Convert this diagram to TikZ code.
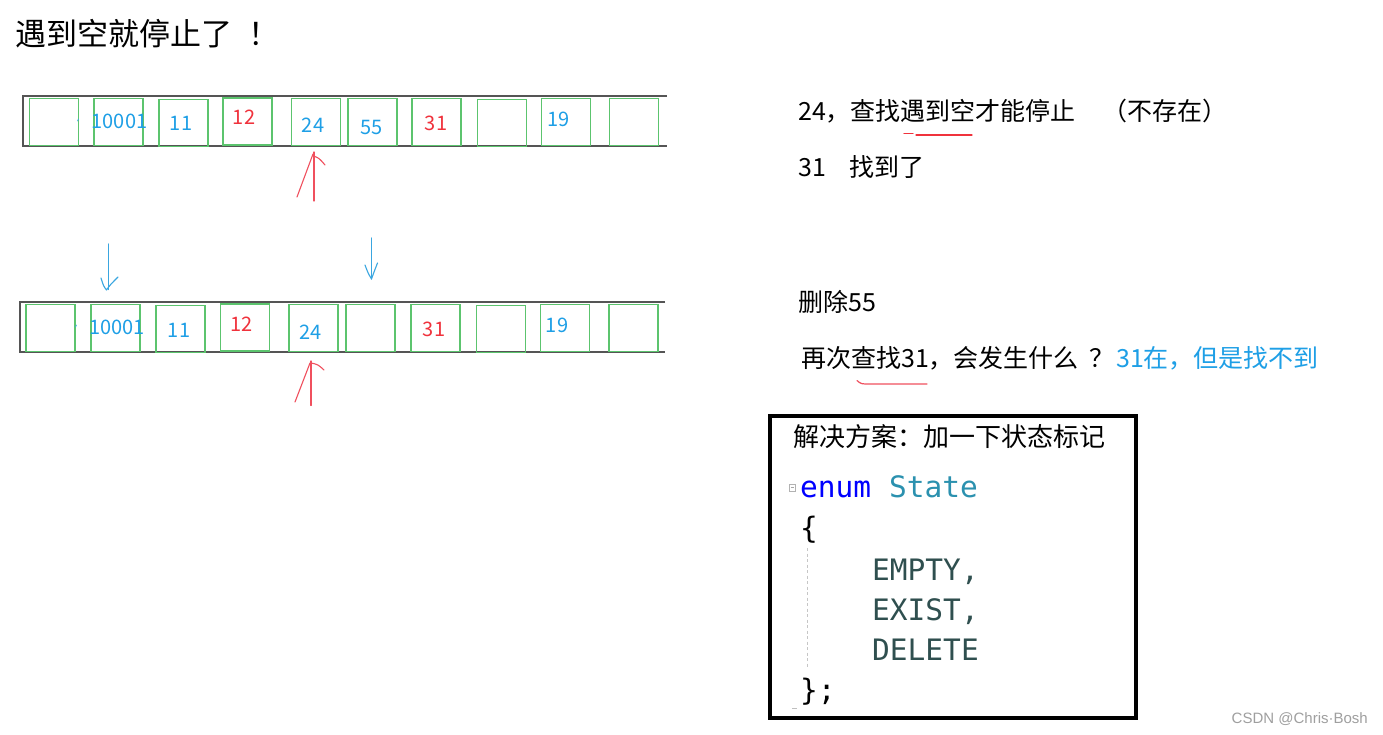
\documentclass[tikz,border=0pt]{standalone}
\usepackage{fontspec}
\setmainfont{Noto Sans CJK SC}
\newfontfamily\codefont{DejaVu Sans Mono}
\newfontfamily\wmfont{Liberation Sans}
\definecolor{numblue}{HTML}{1E9FE6}
\definecolor{numred}{HTML}{F0323C}
\definecolor{cellgreen}{HTML}{5CC46E}
\definecolor{rowgray}{HTML}{555555}
\definecolor{penred}{HTML}{F0505E}
\definecolor{penblue}{HTML}{3AA6E0}
\definecolor{kwblue}{HTML}{0000FF}
\definecolor{typeteal}{HTML}{2B91AF}
\definecolor{enumgray}{HTML}{2F4F4F}
\begin{document}
\begin{tikzpicture}[x=1pt,y=-1pt,
  cell/.style={draw=cellgreen, line width=1.1pt, minimum width=49pt, minimum height=47pt, inner sep=0pt},
  num/.style={font=\fontsize{20}{22}\selectfont, inner sep=0pt},
  txt/.style={anchor=base west, inner sep=0pt, font=\fontsize{25}{30}\selectfont},
  code/.style={anchor=base west, inner sep=0pt, font=\codefont\fontsize{29.5}{34}\selectfont, text=enumgray},
  rowline/.style={draw=rowgray, line width=1.6pt},
  redpen/.style={draw=penred, line width=1.1pt, line cap=round, line join=round},
  bluepen/.style={draw=penblue, line width=1.1pt, line cap=round, line join=round},
  underl/.style={draw=numred, line width=1.2pt, line cap=round}
]
\useasboundingbox[fill=white] (0,0) rectangle (1383,734);

% title
\node[anchor=base west, inner sep=0pt, font=\fontsize{31}{36}\selectfont] (title) at (15,45) {遇到空就停止了};
\node[anchor=base west, inner sep=0pt, font=\fontsize{31}{36}\selectfont] (titlex) at (248,45) {！};

% ---------- row 1 ----------
\coordinate (r1tl) at (23,96); \coordinate (r1tr) at (667,96);
\coordinate (r1bl) at (23,146); \coordinate (r1br) at (667,146);
\draw[rowline] (r1tr) -- (r1tl) -- (r1bl) -- (r1br);
\node[cell] (a1) at (54,122) {};
\node[cell] (a2) at (118.5,122) {};
\node[cell] (a3) at (183.5,123.3) {};
\node[cell] (a4) at (247.5,121.5) {};
\node[cell] (a5) at (316,122) {};
\node[cell] (a6) at (372.5,122) {};
\node[cell] (a7) at (436.5,122) {};
\node[cell] (a8) at (502,123.3) {};
\node[cell] (a9) at (566,122) {};
\node[cell] (a10) at (634,122) {};
\node[num, text=numblue] (ta2) at (119.5,121.5) {10001};
\node[num, text=numblue] (ta3) at (181,123) {11};
\node[num, text=numred]  (ta4) at (244,117.5) {12};
\node[num, text=numblue] (ta5) at (313,125) {24};
\node[num, text=numblue] (ta6) at (371.5,127) {55};
\node[num, text=numred]  (ta7) at (436,123) {31};
\node[num, text=numblue] (ta9) at (558.5,119.5) {19};
\draw[bluepen, line width=0.8pt] (77.6,121) -- (78.4,119);

% red arrow row 1
\coordinate (ra1b) at (314,201); \coordinate (ra1t) at (314,152);
\draw[redpen] (ra1b) -- (ra1t);
\draw[redpen] (313,154) -- (297,197);
\draw[redpen] (313.5,156) .. controls (319,158) .. (325,165);

% blue arrows
\coordinate (ba1t) at (108.5,244); \coordinate (ba1b) at (108.5,289.5);
\draw[bluepen] (ba1t) -- (ba1b);
\draw[bluepen] (101,278) .. controls (103.5,286) .. (106.5,290) .. controls (110,285) .. (118,277);
\coordinate (ba2t) at (371.5,238); \coordinate (ba2b) at (371.5,279);
\draw[bluepen] (ba2t) -- (ba2b);
\draw[bluepen] (365,265) .. controls (368,273) .. (371.5,279) .. controls (374,272) .. (377.5,263);

% ---------- row 2 ----------
\coordinate (r2tl) at (20,302); \coordinate (r2tr) at (665,302);
\coordinate (r2bl) at (20,352); \coordinate (r2br) at (665,352);
\draw[rowline] (r2tr) -- (r2tl) -- (r2bl) -- (r2br);
\node[cell] (b1) at (50.5,328) {};
\node[cell] (b2) at (115.5,328) {};
\node[cell] (b3) at (180.5,329) {};
\node[cell] (b4) at (245,327.5) {};
\node[cell] (b5) at (313.5,328) {};
\node[cell] (b6) at (370.5,328) {};
\node[cell] (b7) at (435.5,328) {};
\node[cell] (b8) at (501,329) {};
\node[cell] (b9) at (565,328) {};
\node[cell] (b10) at (633.5,328) {};
\node[num, text=numblue] (tb2) at (117,327.5) {10001};
\node[num, text=numblue] (tb3) at (179,330) {11};
\node[num, text=numred]  (tb4) at (241.5,324) {12};
\node[num, text=numblue] (tb5) at (310.5,332.5) {24};
\node[num, text=numred]  (tb7) at (434,329) {31};
\node[num, text=numblue] (tb9) at (557,325) {19};
\draw[bluepen, line width=0.8pt] (75.6,327) -- (76.4,325);

% red arrow row 2
\coordinate (ra2b) at (311,405.5); \coordinate (ra2t) at (311,361);
\draw[redpen] (ra2b) -- (ra2t);
\draw[redpen] (310,363) -- (295,402);
\draw[redpen] (311,363) .. controls (318,364.5) .. (324,370);

% ---------- right texts ----------
\node[txt] (l1) at (798,120) {24，查找遇到空才能停止};
\node[txt] (l1b) at (1102,120) {（不存在）};
\draw[underl] (904,133.5) -- (913,133.5);
\draw[underl] (916,135) -- (972,135);
\node[txt] (l2a) at (798,176.5) {31};
\node[txt] (l2b) at (849,176.5) {找到了};
\node[txt] (l3) at (798,311) {删除55};
\node[txt] (l4) at (801,367.5) {再次查找31，会发生什么};
\node[txt] (l4q) at (1089,367.5) {？};
\node[txt, text=numblue] (l4b) at (1116,367.5) {31在，但是找不到};
\draw[underl, draw=penred] (857,380.5) .. controls (861,384) .. (870,384) -- (927,384);

% ---------- solution box ----------
\node[draw=black, line width=4.5pt, minimum width=366pt, minimum height=302pt, inner sep=0pt] (solbox) at (953,567) {};
\node[anchor=base west, inner sep=0pt, font=\fontsize{26}{30}\selectfont] (soltitle) at (793,446) {解决方案：加一下状态标记};
\node[code] (c1) at (800,497) {\textcolor{kwblue}{enum} \textcolor{typeteal}{State}};
\node[code, text=black] (c2) at (800,538) {\{};
\node[code] (c3) at (872,580) {EMPTY,};
\node[code] (c4) at (872,620) {EXIST,};
\node[code] (c5) at (872,660) {DELETE};
\node[code, text=black] (c6) at (800,700) {\};};
\draw[gray!60, line width=0.6pt] (789.5,484) rectangle (795.5,491);
\draw[gray!70, line width=0.6pt] (791,487.5) -- (794,487.5);
\draw[gray!45, line width=0.8pt, dash pattern=on 3pt off 2.5pt] (807.5,548) -- (807.5,668);
\draw[gray!50, line width=0.8pt] (792,708) -- (797,708);

% watermark
\node[anchor=base east, inner sep=0pt, font=\wmfont\fontsize{15}{18}\selectfont, text=gray!75] (wm) at (1368,723) {CSDN @Chris·Bosh};
\end{tikzpicture}
\end{document}
